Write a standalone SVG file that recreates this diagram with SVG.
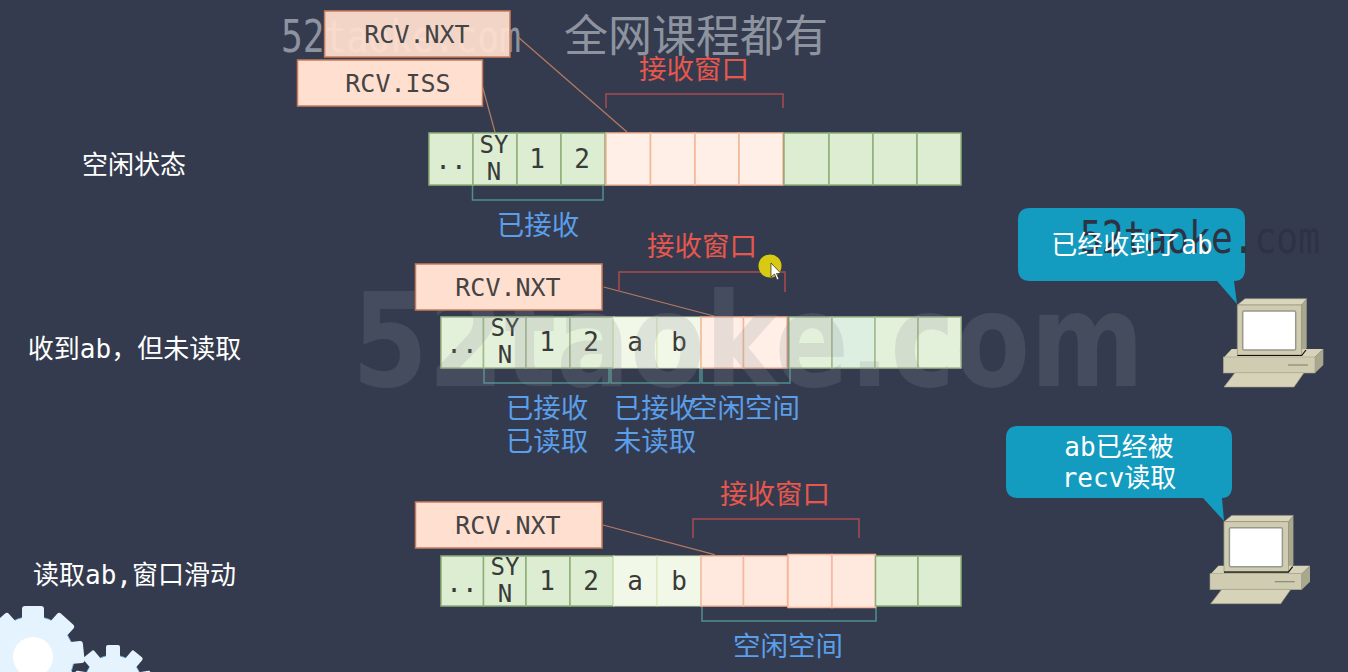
<svg xmlns="http://www.w3.org/2000/svg" width="1348" height="672" viewBox="0 0 1348 672">
<style>
text{font-family:"DejaVu Sans Mono","Noto Sans CJK SC",monospace;text-anchor:middle}
.g{fill:#dcedd2;stroke:#8fae78;stroke-width:1.5}
.g2{fill:#e4f1da;stroke:#a0bb8a;stroke-width:1.5}
.l{fill:#f2f8e8;stroke:#d6e6b8;stroke-width:1}
.p{fill:#ffefe7;stroke:#f3b798;stroke-width:1.5}
.p3{fill:#ffe8de;stroke:#f6b79b;stroke-width:1.5}
.box{fill:#ffdfd0;stroke:#c97c5c;stroke-width:1.5}
.boxt{fill:#444;font-size:25px}
.c{fill:#3a3a3a;font-size:26px}
.sy{fill:#3a3a3a;font-size:24px}
.red{fill:#e8574d;font-size:27.5px}
.blue{fill:#5b9eea;font-size:27.5px}
.side{fill:#fff;font-size:26px}
.rb{fill:none;stroke:#a84c4e;stroke-width:1.5}
.tb{fill:none;stroke:#4f8f8c;stroke-width:1.5}
.ln{fill:none;stroke:#b67a62;stroke-width:1.2}
.bub{fill:#149bc0}
.bt{fill:#fff;font-size:26px}
.wm{fill:#8d939f;font-size:44px}
.wd{fill:#2d3342;font-size:44px}
.gear{fill:#e4f3fd}
</style>
<defs>
<g id="pc">
<polygon points="1237.3,305 1245,298.7 1306.7,298.7 1301.7,305" fill="#d9d6bd" stroke="#9a987f" stroke-width=".6"/>
<polygon points="1301.7,305 1306.7,298.7 1306.7,348 1301.7,355" fill="#a9a78e"/>
<polygon points="1223.3,358 1231.7,349 1323.3,349 1315,357" fill="#d6d3b9"/>
<polygon points="1315,357 1323.3,349 1323.3,365 1315,373" fill="#a9a78e"/>
<rect x="1223.3" y="357" width="91.7" height="16" fill="#cfccb2" stroke="#a3a188" stroke-width=".6"/>
<rect x="1237.3" y="305" width="64.4" height="50" fill="#cfccb2" stroke="#9a987f" stroke-width=".8"/>
<path d="M1237.3 355.5H1301.7L1306 350" fill="none" stroke="#111" stroke-width="1.2"/>
<rect x="1242.7" y="311" width="53" height="39" rx="1.5" fill="#fff" stroke="#98988e" stroke-width="1.5"/>
<path d="M1288 365H1308" stroke="#8b8a73" stroke-width="1.2"/>
<polygon points="1224,387 1235,372.7 1304,372.7 1294,387" fill="#d6d3b9" stroke="#a3a188" stroke-width=".6"/>
</g>
<path id="t1" d="M-11 -37V-48Q-11 -51 -8 -51H8Q11 -51 11 -48V-37Z"/>
<path id="t2" d="M-7 -25V-37Q-7 -39 -5 -39H5Q7 -39 7 -37V-25Z"/>
</defs>
<rect width="1348" height="672" fill="#343b4e"/>

<g id="gears">
<g id="gear-big" class="gear" transform="translate(33 657)">
<circle r="41" stroke="#5aa9dd" stroke-width=".8"/>
<use href="#t1"/>
<use href="#t1" transform="rotate(42)"/>
<use href="#t1" transform="rotate(84)"/>
<use href="#t1" transform="rotate(126)"/>
<use href="#t1" transform="rotate(-42)"/>
<use href="#t1" transform="rotate(-84)"/>
<circle r="20" fill="#fff"/>
</g>
<g id="gear-small" class="gear" transform="translate(113 684)">
<circle r="29" stroke="#5aa9dd" stroke-width=".8"/>
<use href="#t2"/>
<use href="#t2" transform="rotate(40)"/>
<use href="#t2" transform="rotate(-40)"/>
<use href="#t2" transform="rotate(80)"/>
<use href="#t2" transform="rotate(-80)"/>
<circle r="10" fill="#fff"/>
</g>
</g>

<text class="wm" x="401" y="52" textLength="240" lengthAdjust="spacingAndGlyphs">52taoke.com</text>
<text class="wm" x="696" y="52">全网课程都有</text>

<g id="connectors">
<path class="ln" d="M518 37L627 132"/>
<path class="ln" d="M482.6 87L495 132"/>
<path class="ln" d="M603.6 287L714 316"/>
<path class="ln" d="M603 525L714.6 554.7"/>
<path class="rb" d="M606 108V94H783V108"/>
<path class="tb" d="M472.5 185V200H603V185"/>
<path class="rb" d="M619 292V272H785V292"/>
<path class="tb" d="M484 368V383H609V368"/>
<path class="tb" d="M611 368V383H700V368"/>
<path class="tb" d="M702 368V383H790V368"/>
<path class="rb" d="M693 538V519H859V538"/>
<path class="tb" d="M702 606V621H876V606"/>
</g>

<g id="rcv-iss-1"><rect class="box" x="297.5" y="60" width="185" height="46"/><text class="boxt" x="398" y="92">RCV.ISS</text></g>
<g id="rcv-nxt-1"><rect class="box" style="fill-opacity:.94" x="324.6" y="11" width="185.4" height="46"/><text class="boxt" x="417" y="43">RCV.NXT</text></g>

<g id="row-1">
<rect class="g" x="429" y="133" width="44" height="52"/><rect class="g" x="473" y="133" width="44" height="52"/><rect class="g" x="517" y="133" width="44" height="52"/><rect class="g" x="561" y="133" width="44" height="52"/>
<rect class="p" x="606" y="133" width="44.5" height="52"/><rect class="p" x="650.5" y="133" width="44.5" height="52"/><rect class="p" x="695" y="133" width="44" height="52"/><rect class="p" x="739" y="133" width="44" height="52"/>
<rect class="g" x="784" y="133" width="45" height="52"/><rect class="g" x="829" y="133" width="44" height="52"/><rect class="g" x="873" y="133" width="44" height="52"/><rect class="g" x="917" y="133" width="44" height="52"/>
<text class="c" x="451" y="169">..</text><text class="sy" x="494" y="153">SY</text><text class="sy" x="494" y="180">N</text><text class="c" x="537" y="168">1</text><text class="c" x="582" y="168">2</text>
</g>

<g id="row-2">
<rect class="g2" x="441" y="317" width="42.5" height="51"/><rect class="g2" x="483.5" y="317" width="42.5" height="51"/><rect class="g2" x="526" y="317" width="44" height="51"/><rect class="g2" x="570" y="317" width="43.5" height="51"/>
<rect class="l" x="613.5" y="317" width="43.5" height="51"/><rect class="l" x="657" y="317" width="44" height="51"/>
<rect class="p" x="701" y="317" width="42.5" height="51"/><rect class="p" x="743.5" y="317" width="43.5" height="51"/>
<rect class="g2" x="789" y="317" width="43" height="51"/><rect class="g2" style="fill:#dcefe0" x="832" y="317" width="43" height="51"/><rect class="g2" x="875" y="317" width="43" height="51"/><rect class="g2" x="918" y="317" width="43" height="51"/>
<text class="c" x="462" y="353">..</text><text class="sy" x="505" y="336">SY</text><text class="sy" x="505" y="363">N</text><text class="c" x="547" y="351">1</text><text class="c" x="591" y="351">2</text><text class="c" x="635" y="351">a</text><text class="c" x="679" y="351">b</text>
</g>

<text id="watermark" x="748" y="386" style="font-family:'DejaVu Sans','Noto Sans CJK SC',sans-serif;font-size:130px;font-weight:bold;fill:#8d939b;fill-opacity:.2" textLength="792" lengthAdjust="spacingAndGlyphs">52taoke.com</text>

<g id="rcv-nxt-2"><rect class="box" x="415.5" y="264" width="186.5" height="46"/><text class="boxt" x="508" y="296">RCV.NXT</text></g>

<g id="row-3">
<rect class="g" x="441" y="556" width="42.5" height="50"/><rect class="g" x="483.5" y="556" width="42.5" height="50"/><rect class="g" x="526" y="556" width="44" height="50"/><rect class="g" x="570" y="556" width="43.5" height="50"/>
<rect class="l" x="613.5" y="556" width="43.5" height="50"/><rect class="l" x="657" y="556" width="44" height="50"/>
<rect class="p3" x="701" y="556" width="42.5" height="50"/><rect class="p3" x="743.5" y="556" width="44" height="50"/>
<rect class="p3" x="788" y="554.5" width="44" height="53"/><rect class="p3" x="832" y="554.5" width="43.5" height="53"/>
<rect class="g" x="875.5" y="556" width="42.5" height="50"/><rect class="g" x="918" y="556" width="43" height="50"/>
<text class="c" x="462" y="592">..</text><text class="sy" x="505" y="575">SY</text><text class="sy" x="505" y="602">N</text><text class="c" x="547" y="590">1</text><text class="c" x="591" y="590">2</text><text class="c" x="635" y="590">a</text><text class="c" x="679" y="590">b</text>
</g>

<g id="rcv-nxt-3"><rect class="box" x="415.5" y="502" width="186.5" height="46"/><text class="boxt" x="508" y="534">RCV.NXT</text></g>

<g id="labels">
<text class="side" x="134" y="174">空闲状态</text>
<text class="side" x="134.5" y="358">收到ab，但未读取</text>
<text class="side" x="134.5" y="584">读取ab,窗口滑动</text>
<text class="red" x="694" y="79">接收窗口</text>
<text class="red" x="702" y="256">接收窗口</text>
<text class="red" x="775" y="504">接收窗口</text>
<text class="blue" x="538" y="235">已接收</text>
<text class="blue" x="547" y="418">已接收</text>
<text class="blue" x="547" y="451">已读取</text>
<text class="blue" x="655" y="418">已接收</text>
<text class="blue" x="655" y="451">未读取</text>
<text class="blue" x="745" y="418">空闲空间</text>
<text class="blue" x="788" y="656">空闲空间</text>
</g>

<g id="pointer">
<circle cx="770" cy="266" r="11.5" fill="#d8ca12"/>
<path d="M771 263V277L774.5 274L777 280L779 279L776.5 273.5H781Z" fill="#fff" stroke="#222" stroke-width=".7"/>
</g>

<g id="pc-1"><use href="#pc"/></g>
<g id="pc-2"><use href="#pc" transform="translate(-13.3 216.7)"/></g>

<g id="bubble-1">
<path class="bub" d="M1030 208H1233Q1245 208 1245 220V269Q1245 281 1234 281L1237 304L1217 281H1030Q1018 281 1018 269V220Q1018 208 1030 208Z"/>
<text class="wd" x="1200" y="253" textLength="240" lengthAdjust="spacingAndGlyphs">52taoke.com</text>
<text class="bt" x="1132" y="254">已经收到了ab</text>
</g>
<g id="bubble-2">
<path class="bub" d="M1018 426H1220Q1232 426 1232 438V486Q1232 498 1222 498L1224 521L1203 498H1018Q1006 498 1006 486V438Q1006 426 1018 426Z"/>
<text class="bt" x="1119" y="456">ab已经被</text>
<text class="bt" x="1119" y="487">recv读取</text>
</g>
</svg>
